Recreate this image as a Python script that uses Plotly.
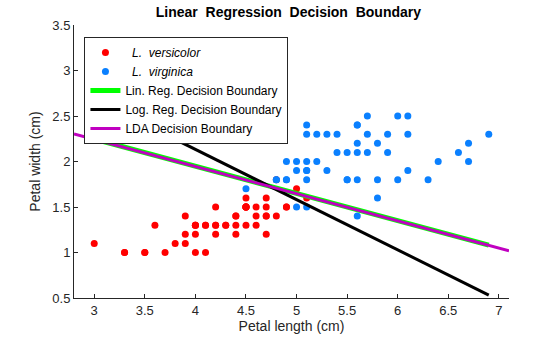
import numpy as np
import plotly.graph_objects as go

# Iris petal measurements (cm)
versicolor_length = [4.7, 4.5, 4.9, 4.0, 4.6, 4.5, 4.7, 3.3, 4.6, 3.9, 3.5, 4.2, 4.0, 4.7, 3.6, 4.4, 4.5,
                     4.1, 4.5, 3.9, 4.8, 4.0, 4.9, 4.7, 4.3, 4.4, 4.8, 5.0, 4.5, 3.5, 3.8, 3.7, 3.9, 5.1,
                     4.5, 4.5, 4.7, 4.4, 4.1, 4.0, 4.4, 4.6, 4.0, 3.3, 4.2, 4.2, 4.2, 4.3, 3.0, 4.1]
versicolor_width = [1.4, 1.5, 1.5, 1.3, 1.5, 1.3, 1.6, 1.0, 1.3, 1.4, 1.0, 1.5, 1.0, 1.4, 1.3, 1.4, 1.5,
                    1.0, 1.5, 1.1, 1.8, 1.3, 1.5, 1.2, 1.3, 1.4, 1.4, 1.7, 1.5, 1.0, 1.1, 1.0, 1.2, 1.6,
                    1.5, 1.6, 1.5, 1.3, 1.3, 1.3, 1.2, 1.4, 1.2, 1.0, 1.3, 1.2, 1.3, 1.3, 1.1, 1.3]
virginica_length = [6.0, 5.1, 5.9, 5.6, 5.8, 6.6, 4.5, 6.3, 5.8, 6.1, 5.1, 5.3, 5.5, 5.0, 5.1, 5.3, 5.5,
                    6.7, 6.9, 5.0, 5.7, 4.9, 6.7, 4.9, 5.7, 6.0, 4.8, 4.9, 5.6, 5.8, 6.1, 6.4, 5.6, 5.1,
                    5.6, 6.1, 5.6, 5.5, 4.8, 5.4, 5.6, 5.1, 5.1, 5.9, 5.7, 5.2, 5.0, 5.2, 5.4, 5.1]
virginica_width = [2.5, 1.9, 2.1, 1.8, 2.2, 2.1, 1.7, 1.8, 1.8, 2.5, 2.0, 1.9, 2.1, 2.0, 2.4, 2.3, 1.8,
                   2.2, 2.3, 1.5, 2.3, 2.0, 2.0, 1.8, 2.1, 1.8, 1.8, 1.8, 2.1, 1.6, 1.9, 2.0, 2.2, 1.5,
                   1.4, 2.3, 2.4, 1.8, 1.8, 2.1, 2.4, 2.3, 1.9, 2.3, 2.5, 2.3, 1.9, 2.0, 2.3, 1.8]

# Decision boundaries: width = intercept + slope * length
lin_reg_coef = (3.144, -0.299)
log_reg_coef = (4.341, -0.552)
lda_coef = (3.139, -0.2985)
data_x_span = [3.0, 6.9]
axis_x_span = [2.8, 7.1]


def boundary(coef, xs):
    xs = np.array(xs)
    return xs, coef[0] + coef[1] * xs


font = "Liberation Sans, Arial, Helvetica, sans-serif"
fig = go.Figure()

fig.add_trace(go.Scatter(x=versicolor_length, y=versicolor_width, mode="markers",
                         marker=dict(color="#ff0000", size=7),
                         name="\u00a0 <i>L.\u00a0 versicolor</i>"))
fig.add_trace(go.Scatter(x=virginica_length, y=virginica_width, mode="markers",
                         marker=dict(color="#0a80ff", size=7),
                         name="\u00a0 <i>L.\u00a0 virginica</i>"))

x, y = boundary(lin_reg_coef, data_x_span)
fig.add_trace(go.Scatter(x=x, y=y, mode="lines", line=dict(color="#00ff00", width=5),
                         name="Lin. Reg. Decision Boundary"))
x, y = boundary(log_reg_coef, data_x_span)
fig.add_trace(go.Scatter(x=x, y=y, mode="lines", line=dict(color="#000000", width=3),
                         name="Log. Reg. Decision Boundary"))
x, y = boundary(lda_coef, axis_x_span)
fig.add_trace(go.Scatter(x=x, y=y, mode="lines", line=dict(color="#c000c0", width=3),
                         name="LDA Decision Boundary"))

fig.update_layout(
    width=560, height=337,
    margin=dict(l=73.6, r=51, t=25, b=39),
    paper_bgcolor="white", plot_bgcolor="white",
    font=dict(family=font, size=13, color="#262626"),
    title=dict(text="<b>Linear\u00a0 Regression\u00a0 Decision\u00a0 Boundary</b>",
               x=0.515, xanchor="center", y=0.965, yanchor="middle",
               font=dict(size=14, color="black")),
    showlegend=True,
    legend=dict(x=0.024, y=0.956, xanchor="left", yanchor="top",
                bgcolor="white", bordercolor="#262626", borderwidth=1,
                font=dict(size=12, color="black"), tracegroupgap=0),
    xaxis=dict(range=axis_x_span, tickvals=[3, 3.5, 4, 4.5, 5, 5.5, 6, 6.5, 7],
               ticktext=["3", "3.5", "4", "4.5", "5", "5.5", "6", "6.5", "7"],
               ticks="inside", ticklen=4, tickcolor="#262626", showline=True,
               linecolor="#262626", linewidth=1, mirror=False, showgrid=False, zeroline=False,
               automargin=False,
               title=dict(text="Petal length (cm)", font=dict(size=14), standoff=4)),
    yaxis=dict(range=[0.5, 3.5], tickvals=[0.5, 1, 1.5, 2, 2.5, 3, 3.5],
               ticktext=["0.5", "1", "1.5", "2", "2.5", "3", "3.5"],
               ticks="inside", ticklen=4, tickcolor="#262626", showline=True,
               linecolor="#262626", linewidth=1, mirror=False, showgrid=False, zeroline=False,
               automargin=False,
               title=dict(text="Petal width (cm)", font=dict(size=14), standoff=8)),
)

fig.write_html("out.html")
